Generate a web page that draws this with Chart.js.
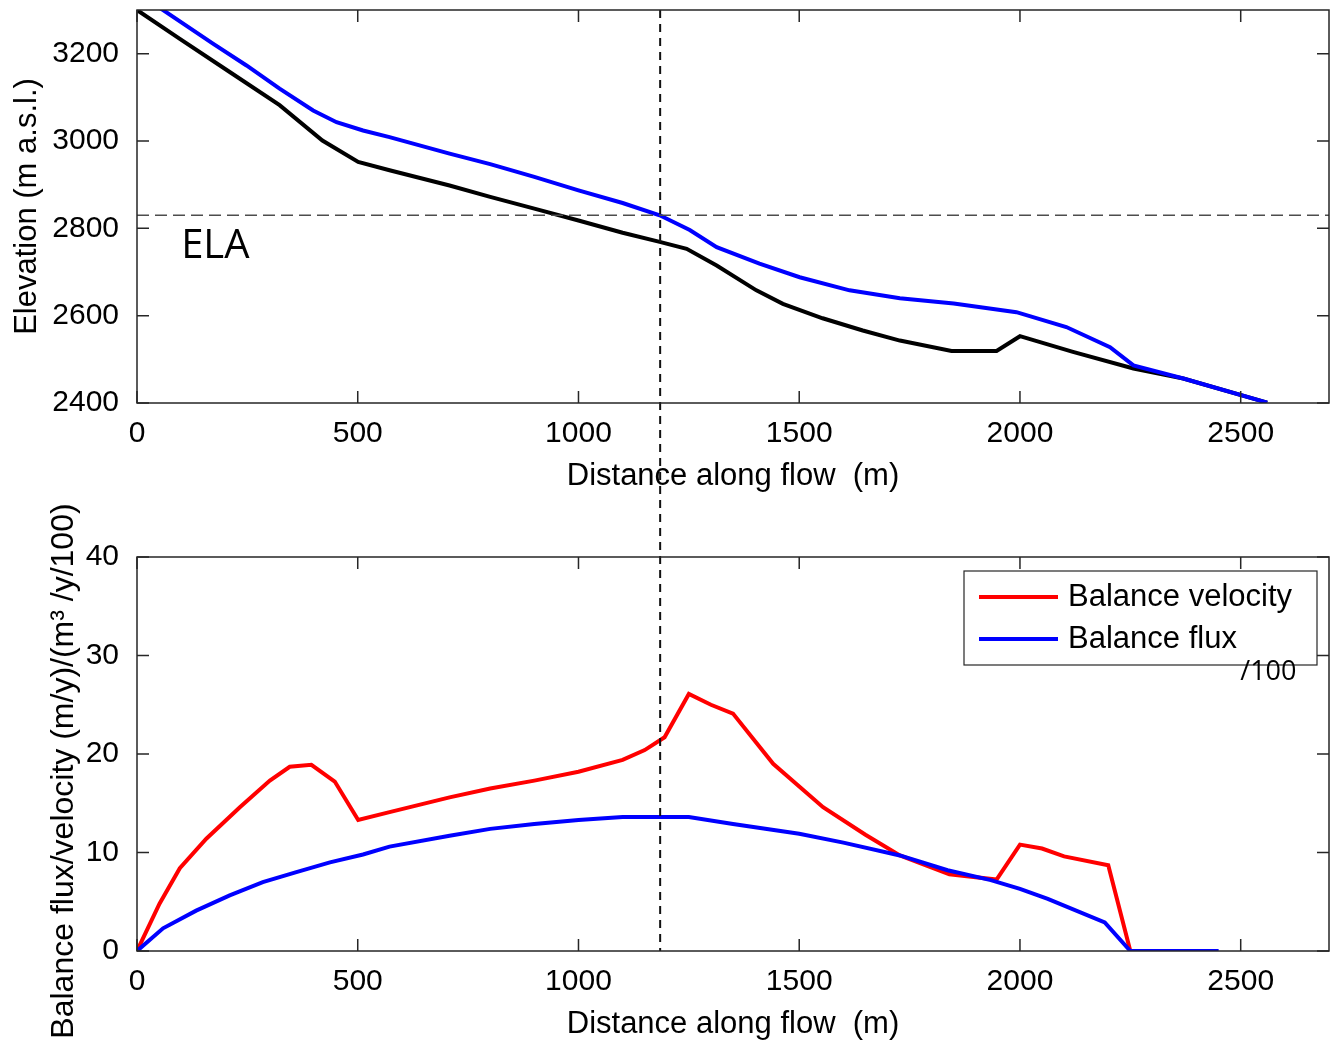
<!DOCTYPE html>
<html>
<head>
<meta charset="utf-8">
<title>Glacier profile and balance flux</title>
<script src="https://cdn.jsdelivr.net/npm/chart.js@4.4.0/dist/chart.umd.min.js"></script>
<style>
  body { margin: 0; background: #fff; }
  #wrap { width: 1338px; height: 1048px; }
  canvas { display: block; }
</style>
</head>
<body>
<div id="wrap">
  <canvas id="profileChart" width="1338" height="500"></canvas>
  <canvas id="fluxChart" width="1338" height="548"></canvas>
</div>
<script>
// distance along flow (m) and elevation (m a.s.l.)
const bedDistance = [0, 97, 210, 323, 420, 501, 572, 708, 800, 900, 1000, 1100, 1184, 1245, 1313, 1403, 1463, 1553, 1644, 1728, 1845, 1947, 2000, 2120, 2257, 2370, 2560];
const bedElevation = [3300, 3234, 3158, 3082, 3001, 2952, 2933, 2898, 2872, 2845, 2818, 2790, 2769, 2753, 2715, 2658, 2627, 2594, 2566, 2543, 2519, 2519, 2553, 2517, 2479, 2456, 2401];

const surfaceDistance = [0, 172, 248, 323, 399, 452, 512, 572, 708, 800, 900, 1000, 1100, 1184, 1252, 1313, 1410, 1501, 1614, 1728, 1850, 1992, 2105, 2204, 2257, 2370, 2560];
const surfaceElevation = [3340, 3223, 3173, 3120, 3070, 3043, 3024, 3009, 2971, 2947, 2918, 2887, 2858, 2830, 2796, 2757, 2719, 2688, 2658, 2640, 2628, 2608, 2574, 2528, 2486, 2456, 2401];

// balance velocity (m/y) and balance flux (m3/y/100)
const velocityDistance = [0, 51, 97, 157, 233, 301, 346, 395, 448, 501, 572, 708, 800, 900, 1000, 1100, 1150, 1195, 1250, 1300, 1350, 1441, 1554, 1650, 1728, 1840, 1947, 2000, 2050, 2100, 2200, 2250];
const velocityValues = [0, 4.8, 8.4, 11.4, 14.6, 17.3, 18.7, 18.9, 17.2, 13.3, 14.1, 15.6, 16.5, 17.3, 18.2, 19.4, 20.4, 21.7, 26.1, 25.0, 24.1, 19.0, 14.6, 11.8, 9.7, 7.8, 7.25, 10.8, 10.4, 9.6, 8.7, 0];

const fluxDistance = [0, 59, 134, 210, 285, 361, 437, 512, 572, 708, 800, 900, 1000, 1100, 1250, 1350, 1500, 1600, 1728, 1836, 1934, 2000, 2063, 2192, 2250, 2450];
const fluxValues = [0, 2.3, 4.1, 5.65, 7.0, 8.0, 9.0, 9.8, 10.6, 11.7, 12.4, 12.9, 13.3, 13.6, 13.6, 12.9, 11.9, 11.0, 9.7, 8.2, 7.2, 6.3, 5.3, 2.9, 0, 0];

const distanceTicks = [0, 500, 1000, 1500, 2000, 2500];
const elevationTicks = [2400, 2600, 2800, 3000, 3200];
const fluxTicks = [0, 10, 20, 30, 40];

const elaElevation = 2830;
const elaDistance = 1185;

const FONT = "'Liberation Sans', Arial, Helvetica, sans-serif";
const NOTE_FONT = "'Open Sans', 'Noto Sans', sans-serif";
Chart.defaults.font.family = FONT;
Chart.defaults.color = '#000';

function toPoints(xs, ys) {
  return xs.map((x, i) => ({x: x, y: ys[i]}));
}

function setTicks(list) {
  return scale => { scale.ticks = list.map(v => ({value: v})); };
}

// matlab style box, inward ticks, reference lines and notes
const frame = {
  id: 'frame',
  afterDraw(chart, args, opts) {
    const {ctx, chartArea: a, scales: {x, y}} = chart;
    ctx.save();

    if (opts.elaLine != null) {
      const py = y.getPixelForValue(opts.elaLine);
      ctx.strokeStyle = '#4d4d4d';
      ctx.lineWidth = 1.5;
      ctx.setLineDash([12, 6]);
      ctx.beginPath();
      ctx.moveTo(a.left, py);
      ctx.lineTo(a.right, py);
      ctx.stroke();
    }
    if (opts.divide != null) {
      const px = x.getPixelForValue(opts.divide);
      ctx.strokeStyle = '#111';
      ctx.lineWidth = 2;
      ctx.setLineDash([8, 6]);
      ctx.beginPath();
      ctx.moveTo(px, opts.upToEdge ? 0 : a.top);
      ctx.lineTo(px, opts.downToEdge ? chart.height : a.bottom);
      ctx.stroke();
    }
    ctx.setLineDash([]);

    ctx.strokeStyle = '#262626';
    ctx.lineWidth = 1.5;
    ctx.strokeRect(a.left, a.top, a.right - a.left, a.bottom - a.top);
    ctx.beginPath();
    x.ticks.forEach(t => {
      const px = x.getPixelForValue(t.value);
      ctx.moveTo(px, a.bottom); ctx.lineTo(px, a.bottom - 12);
      ctx.moveTo(px, a.top); ctx.lineTo(px, a.top + 12);
    });
    y.ticks.forEach(t => {
      const py = y.getPixelForValue(t.value);
      ctx.moveTo(a.left, py); ctx.lineTo(a.left + 12, py);
      ctx.moveTo(a.right, py); ctx.lineTo(a.right - 12, py);
    });
    ctx.stroke();

    if (opts.sideTitle) {
      ctx.translate(opts.sideTitle.x, (a.top + a.bottom) / 2 + opts.sideTitle.shift);
      ctx.rotate(-Math.PI / 2);
      ctx.fillStyle = '#000';
      ctx.font = '32px ' + FONT;
      ctx.textAlign = 'center';
      ctx.textBaseline = 'middle';
      ctx.fillText(opts.sideTitle.text, 0, 0);
      ctx.setTransform(1, 0, 0, 1, 0, 0);
    }

    if (opts.legend) {
      const bx = a.right - 12 - 353, by = a.top + 14;
      ctx.fillStyle = '#fff';
      ctx.fillRect(bx, by, 353, 94);
      ctx.strokeStyle = '#262626';
      ctx.lineWidth = 1.2;
      ctx.strokeRect(bx, by, 353, 94);
      chart.data.datasets.slice().sort((p, q) => q.order - p.order).forEach((ds, i) => {
        const ly = by + 26 + i * 42;
        ctx.strokeStyle = ds.borderColor;
        ctx.lineWidth = 4;
        ctx.beginPath();
        ctx.moveTo(bx + 15, ly);
        ctx.lineTo(bx + 94, ly);
        ctx.stroke();
        ctx.fillStyle = '#000';
        ctx.font = '31px ' + FONT;
        ctx.textAlign = 'left';
        ctx.textBaseline = 'middle';
        ctx.fillText(ds.label, bx + 104, ly);
      });
    }

    (opts.notes || []).forEach(n => {
      ctx.fillStyle = '#000';
      ctx.font = n.size + 'px ' + NOTE_FONT;
      ctx.textAlign = 'left';
      ctx.textBaseline = 'alphabetic';
      ctx.fillText(n.text, x.getPixelForValue(n.x), y.getPixelForValue(n.y));
    });
    ctx.restore();
  }
};

const tickFont = {size: 30};
const titleFont = {size: 31, lineHeight: 1.2};
const plainLabel = v => String(v);

function xAxis() {
  return {
    type: 'linear', min: 0, max: 2700,
    afterBuildTicks: setTicks(distanceTicks),
    afterFit: s => { s.height = 97; s.paddingLeft = 0; s.paddingRight = 0; },
    grid: {display: false}, border: {display: false},
    ticks: {font: tickFont, padding: 5, maxRotation: 0, callback: plainLabel},
    title: {display: true, text: 'Distance along flow  (m)', font: titleFont, padding: {top: 0, bottom: 5}}
  };
}

function yFit(s) {
  s.width = 137;
  s.paddingTop = 0;
  s.paddingBottom = 0;
}

new Chart(document.getElementById('profileChart'), {
  type: 'line',
  data: {
    datasets: [
      {label: 'Surface', data: toPoints(surfaceDistance, surfaceElevation), borderColor: '#0000ff', borderWidth: 4, pointRadius: 0, order: 0},
      {label: 'Bed', data: toPoints(bedDistance, bedElevation), borderColor: '#000000', borderWidth: 4, pointRadius: 0, order: 1}
    ]
  },
  options: {
    responsive: false, animation: false,
    layout: {padding: {top: 10, right: 9, bottom: 0, left: 0}},
    scales: {
      x: xAxis(),
      y: {
        min: 2400, max: 3300,
        afterBuildTicks: setTicks(elevationTicks),
        afterFit: yFit,
        grid: {display: false}, border: {display: false},
        ticks: {font: tickFont, padding: 10, callback: plainLabel},
        title: {display: true, text: 'Elevation (m a.s.l.)', font: titleFont, padding: {top: 9, bottom: 0}}
      }
    },
    plugins: {
      legend: {display: false},
      tooltip: {enabled: false},
      frame: {
        elaLine: elaElevation, divide: elaDistance, downToEdge: true,
        notes: [{text: 'ELA', x: 100, y: 2731, size: 40}]
      }
    }
  },
  plugins: [frame]
});

new Chart(document.getElementById('fluxChart'), {
  type: 'line',
  data: {
    datasets: [
      {label: 'Balance flux', data: toPoints(fluxDistance, fluxValues), borderColor: '#0000ff', borderWidth: 4, pointRadius: 0, order: 0},
      {label: 'Balance velocity', data: toPoints(velocityDistance, velocityValues), borderColor: '#ff0000', borderWidth: 4, pointRadius: 0, order: 1}
    ]
  },
  options: {
    responsive: false, animation: false,
    layout: {padding: {top: 57, right: 9, bottom: 0, left: 0}},
    scales: {
      x: xAxis(),
      y: {
        min: 0, max: 40,
        afterBuildTicks: setTicks(fluxTicks),
        afterFit: yFit,
        grid: {display: false}, border: {display: false},
        ticks: {font: tickFont, padding: 10, callback: plainLabel}
      }
    },
    plugins: {
      legend: {display: false},
      tooltip: {enabled: false},
      frame: {
        divide: elaDistance, upToEdge: true, legend: true,
        sideTitle: {text: 'Balance flux/velocity (m/y)/(m\u00b3 /y/100)', x: 64, shift: 17},
        notes: [{text: '/100', x: 2499, y: 27.5, size: 27}]
      }
    }
  },
  plugins: [frame]
});
</script>
</body>
</html>
